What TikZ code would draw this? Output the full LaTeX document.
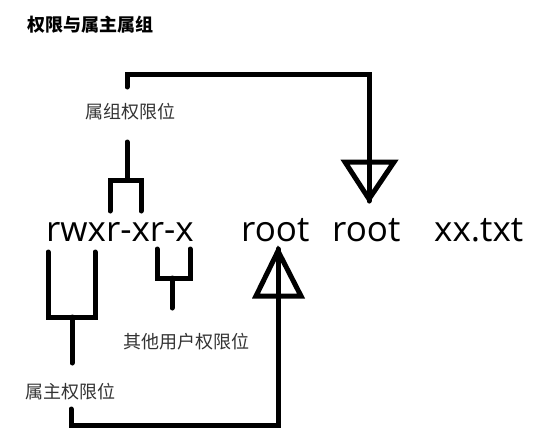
\documentclass[tikz,border=0pt]{standalone}
\usepackage{fontspec}
\setmainfont{Open Sans}
\newfontfamily\cjk{Noto Sans CJK SC}
\definecolor{lblgray}{HTML}{333333}
\begin{document}
\begin{tikzpicture}[x=1pt,y=-1pt,
  lbl/.style={font=\cjk\fontsize{18}{18}\selectfont, text=lblgray, inner sep=0pt},
  perm/.style={font=\fontsize{35}{35}\selectfont, inner sep=0pt, anchor=base west},
  conn/.style={line width=5pt, line cap=round, line join=miter},
  tri/.style={line width=5pt, line join=miter}]
\useasboundingbox (0,0) rectangle (537,447);
% title
\node[anchor=west, inner sep=0pt, font=\cjk\bfseries\fontsize{18}{18}\selectfont] (title) at (27,25) {权限与属主属组};
% text line
\node[perm] (perm) at (46,241) {rwxr-xr-x};
\node[perm] (own) at (241,241) {root};
\node[perm] (grp) at (332,241) {root};
\node[perm] (file) at (434,241) {xx.txt};
% labels
\node[lbl] (glbl) at (130,112) {属组权限位};
\node[lbl] (olbl) at (186,342) {其他用户权限位};
\node[lbl] (ulbl) at (70,392) {属主权限位};
% coordinates
\coordinate (gA) at (127,87);
\coordinate (gTip) at (369,201);
\coordinate (uA) at (71,409);
\coordinate (uTip) at (278,249);
% group connector to second root
\draw[conn] (gA) -- (127,74) -| (gTip);
\draw[tri] (345,162) -- (394,162) -- (369,199) -- cycle;
% owner connector to first root
\draw[conn] (uA) -- (71,425) -| (uTip);
\draw[tri] (256,296) -- (301,296) -- (278,251) -- cycle;
% group bracket
\draw[conn] (127,142) -- (127,180);
\draw[conn] (110,211) -- (110,180) -- (141,180) -- (141,211);
% owner bracket
\draw[conn] (48,252) -- (48,317) -- (95,317) -- (95,252);
\draw[conn] (72,317) -- (72,363);
% other bracket
\draw[conn] (157,249) -- (157,278) -- (190,278) -- (190,249);
\draw[conn] (172,278) -- (172,308);
\end{tikzpicture}
\end{document}
